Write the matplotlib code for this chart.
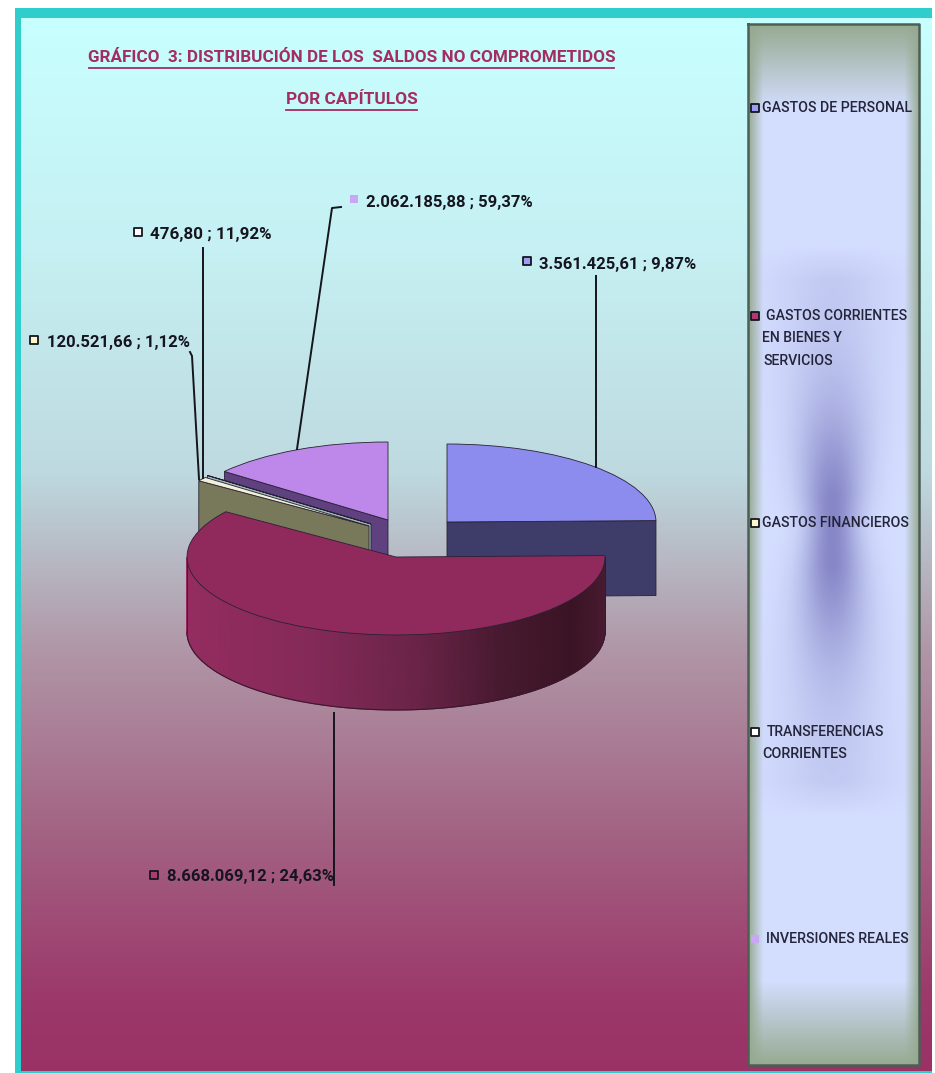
import matplotlib
matplotlib.use("Agg")
import matplotlib.pyplot as plt
from matplotlib.colors import LinearSegmentedColormap
import numpy as np

W, H = 935, 1073

chapters = [
    ["GASTOS DE PERSONAL"],
    ["GASTOS CORRIENTES", "EN BIENES Y", "SERVICIOS"],
    ["GASTOS FINANCIEROS"],
    ["TRANSFERENCIAS", "CORRIENTES"],
    ["INVERSIONES REALES"],
]
values = [3561425.61, 8668069.12, 120521.66, 476.80, 2062185.88]
value_labels = [
    "3.561.425,61 ; 9,87%",
    "8.668.069,12 ; 24,63%",
    "120.521,66 ; 1,12%",
    "476,80 ; 11,92%",
    "2.062.185,88 ; 59,37%",
]

top_colors = ["#8c8cee", "#912a5c", "#f2f0d8", "#d4f0f0", "#bd88ea"]
wall_colors = ["#3e3c69", "#912a5c", "#78785a", "#9ab8b8", "#5f4180"]
marker_colors = ["#9c9cf2", "#b03a70", "#fdf6c8", "#ffffff", "#c8a8f5"]

# pixel layout of the exploded pie
centers = [(447, 522), (396, 557), (369, 526), (371, 524), (388, 520)]
RX, RY, DEPTH = 209, 78, 75

label_pos = [(539, 264), (167, 877), (47, 343), (150, 235), (366, 202)]
label_width = [157, 167, 143, 122, 166]
marker_pos = [(527, 261), (154, 875), (34, 340), (138, 232), (354, 199)]
leaders = [
    [(596, 276), (596, 467)],
    [(334, 713), (334, 885)],
    [(190, 352), (192, 356), (199, 479)],
    [(203, 248), (203, 478)],
    [(341, 207), (332, 208), (297, 449)],
]

legend_y = [108, 316, 523, 732, 939]
legend_x = [[762], [766, 762, 763], [762], [767, 762], [766]]
legend_width = [[151], [142, 80, 70], [147], [118, 85], [144]]

bg_stops_y = [18, 250, 470, 650, 850, 1000, 1070]
bg_stops_rgb = [
    (200, 255, 255),
    (198, 240, 243),
    (190, 218, 224),
    (176, 150, 166),
    (162, 94, 128),
    (156, 56, 106),
    (154, 50, 102),
]


def background():
    y = np.arange(18, 1071)
    rgb = np.array(bg_stops_rgb, dtype=float)
    col = np.stack([np.interp(y, bg_stops_y, rgb[:, i]) for i in range(3)], axis=1)
    return (col[:, None, :] / 255).astype(float)


def panel():
    x0, x1, y0, y1 = 748, 919, 24, 1065
    xx, yy = np.meshgrid(np.arange(x0, x1), np.arange(y0, y1))
    base = np.array([212, 222, 255.0])
    dark = np.array([135, 135, 200.0])
    edge = np.array([150, 170, 145.0])

    dist = np.abs(yy - 530) / 285
    width = 26 + 34 * dist
    fade = np.clip((1 - dist) / 0.12, 0, 1)
    amp = 0.85 * np.exp(-(dist / 0.42) ** 2) + 0.22 * fade
    shade = np.clip(amp, 0, 1) * np.exp(-((xx - 832) / width) ** 2)
    img = base + (dark - base) * shade[..., None]

    side = np.clip(np.minimum(xx - x0, x1 - xx) / 15, 0, 1)
    ends = np.clip(np.minimum(yy - y0, y1 - yy) / 85, 0, 1)
    mix = (side * ends)[..., None]
    img = edge + (img - edge) * mix
    return img / 255, (x0, x1, y1, y0)


def fit_text(fig, text, width):
    # no condensed face is installed, so size each string to the width it has in the chart
    renderer = fig.canvas.get_renderer()
    current = text.get_window_extent(renderer).width
    text.set_fontsize(text.get_fontsize() * width / current)


def main():
    plt.rcParams["font.family"] = ["Roboto", "Liberation Sans"]

    fig = plt.figure(figsize=(W / 100, H / 100), dpi=100, facecolor="white")

    bg_ax = fig.add_axes([0, 0, 1, 1], zorder=0)
    bg_ax.set_xlim(0, W)
    bg_ax.set_ylim(H, 0)
    bg_ax.axis("off")

    # teal frame, then the gradient inside it
    bg_ax.fill_between([15, 932], 8, 1073, color="#30cdcd", lw=0)
    bg_ax.imshow(background(), extent=(21, 932, 1071, 18), aspect="auto", zorder=1)
    img, extent = panel()
    bg_ax.imshow(img, extent=extent, aspect="auto", zorder=2)
    bg_ax.plot(
        [748, 919, 919, 748, 748],
        [24, 24, 1065, 1065, 24],
        color="#4c5f55",
        lw=1.8,
        zorder=3,
    )
    bg_ax.set_xlim(0, W)
    bg_ax.set_ylim(H, 0)

    # pie axes: one data unit is RX pixels across and RY pixels up
    pie_ax = fig.add_axes([0, 0, 1, 1], zorder=1)
    pie_ax.patch.set_alpha(0)
    wedges, _ = pie_ax.pie(
        values,
        colors=top_colors,
        startangle=90,
        counterclock=False,
        radius=1,
        wedgeprops={"edgecolor": "#2a2035", "linewidth": 0.6},
    )
    pie_ax.set_aspect("auto")
    pie_ax.set_xlim(0, W / RX)
    pie_ax.set_ylim(0, H / RY)
    pie_ax.axis("off")

    depth = DEPTH / RY
    unit_centers = [(x / RX, (H - y) / RY) for x, y in centers]
    draw_order = {4: 2, 3: 3, 2: 4, 0: 6, 1: 8}
    hang_from = {0: "theta1", 2: "theta2", 3: "theta2", 4: "theta2"}

    for i, wedge in enumerate(wedges):
        cx, cy = unit_centers[i]
        wedge.set_center((cx, cy))
        wedge.set_zorder(draw_order[i] + 0.5)
        if i in hang_from:
            ang = np.deg2rad(getattr(wedge, hang_from[i]))
            tx, ty = cx + np.cos(ang), cy + np.sin(ang)
            pie_ax.fill(
                [cx, tx, tx, cx],
                [cy, ty, ty - depth, cy - depth],
                facecolor=wall_colors[i],
                edgecolor="#2a2035",
                lw=0.6,
                zorder=draw_order[i],
            )

    # outer wall of the big slice, shaded left to right
    cx, cy = unit_centers[1]
    t = np.deg2rad(np.linspace(180, 360, 181))
    ex, ey = cx + np.cos(t), cy + np.sin(t)
    xs = np.vstack([ex, ex])
    ys = np.vstack([ey, ey - depth])
    wall_cmap = LinearSegmentedColormap.from_list(
        "wall",
        [
            (0.0, "#942c60"),
            (0.3, "#842a58"),
            (0.55, "#6a2448"),
            (0.75, "#481a30"),
            (0.92, "#3a1424"),
            (1.0, "#481a30"),
        ],
    )
    pie_ax.pcolormesh(
        xs, ys, (xs - xs.min()) / (xs.max() - xs.min()),
        cmap=wall_cmap, shading="gouraud", zorder=7,
    )
    pie_ax.plot(ex, ey - depth, color="#3a1830", lw=0.8, zorder=7.2)
    pie_ax.plot([ex[0], ex[0]], [ey[0], ey[0] - depth], color="#3a1830", lw=0.6, zorder=7.2)
    pie_ax.plot([ex[-1], ex[-1]], [ey[-1], ey[-1] - depth], color="#3a1830", lw=0.6, zorder=7.2)
    pie_ax.set_xlim(0, W / RX)
    pie_ax.set_ylim(0, H / RY)

    # text layer in pixel coordinates
    ax = fig.add_axes([0, 0, 1, 1], zorder=2)
    ax.patch.set_alpha(0)
    ax.set_xlim(0, W)
    ax.set_ylim(H, 0)
    ax.axis("off")

    title_color = "#a32d60"
    title_1 = ax.text(351.5, 58, "GRÁFICO  3: DISTRIBUCIÓN DE LOS  SALDOS NO COMPROMETIDOS",
                      ha="center", va="center", fontsize=12, fontweight="bold", color=title_color)
    title_2 = ax.text(351.5, 100, "POR CAPÍTULOS",
                      ha="center", va="center", fontsize=12, fontweight="bold", color=title_color)
    fit_text(fig, title_1, 525)
    fit_text(fig, title_2, 131)
    ax.plot([89, 614], [68, 68], color=title_color, lw=1.3)
    ax.plot([286, 417], [110, 110], color=title_color, lw=1.3)

    for line in leaders:
        xs_line, ys_line = zip(*line)
        ax.plot(xs_line, ys_line, color="#15151c", lw=1.4)

    for i, label in enumerate(value_labels):
        t_label = ax.text(label_pos[i][0], label_pos[i][1], label, ha="left", va="center",
                          fontsize=12, fontweight="bold", color="#15151f")
        fit_text(fig, t_label, label_width[i])
        mx, my = marker_pos[i]
        ax.scatter([mx], [my], marker="s", s=38, color=marker_colors[i],
                   edgecolors="none" if i == 4 else "#15151f", linewidths=1.3)

    for i, lines in enumerate(chapters):
        y = legend_y[i]
        for j, line in enumerate(lines):
            t_leg = ax.text(legend_x[i][j], y + j * 22.5, line, ha="left", va="center",
                            fontsize=11, fontweight="medium", color="#24243a")
            fit_text(fig, t_leg, legend_width[i][j])
        ax.scatter([755], [y], marker="s", s=30, color=marker_colors[i],
                   edgecolors="none" if i == 4 else "#15151f", linewidths=1.3)

    fig.savefig("out.png", dpi=100, facecolor="white")
    plt.close(fig)


if __name__ == "__main__":
    main()
